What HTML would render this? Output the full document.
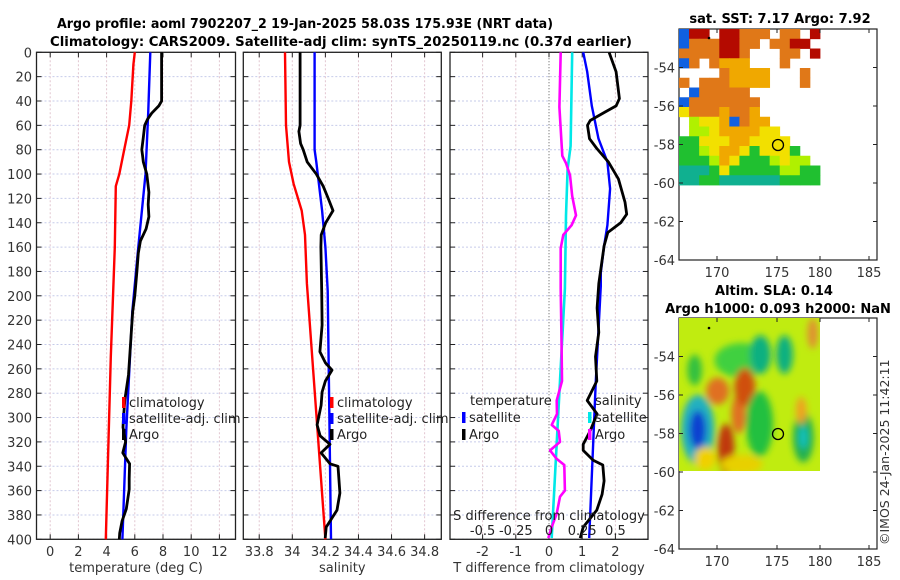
<!DOCTYPE html>
<html><head><meta charset="utf-8"><style>
body{margin:0;background:#fff}
svg{display:block;font-family:"DejaVu Sans","Liberation Sans",sans-serif}
</style></head><body>
<svg id="fig" width="900" height="580" viewBox="0 0 900 580" xmlns="http://www.w3.org/2000/svg">
<defs>
<filter id="blur" x="-50%" y="-50%" width="200%" height="200%"><feGaussianBlur stdDeviation="3.5"/></filter>
<clipPath id="slaclip"><rect x="679" y="318" width="141" height="153"/></clipPath>
</defs>
<text x="57" y="28" textLength="496" lengthAdjust="spacingAndGlyphs" font-size="13" font-weight="bold">Argo profile: aoml 7902207_2 19-Jan-2025 58.03S 175.93E (NRT data)</text>
<text x="50" y="46" textLength="582" lengthAdjust="spacingAndGlyphs" font-size="13" font-weight="bold">Climatology: CARS2009. Satellite-adj clim: synTS_20250119.nc (0.37d earlier)</text>
<text x="780" y="23" text-anchor="middle" font-size="13" font-weight="bold">sat. SST: 7.17 Argo: 7.92</text>
<text x="774" y="295" text-anchor="middle" font-size="13" font-weight="bold">Altim. SLA: 0.14</text>
<text x="778" y="313" text-anchor="middle" font-size="13" font-weight="bold">Argo h1000: 0.093 h2000: NaN</text>
<text transform="translate(889,545) rotate(-90)" font-size="12.5" fill="#333">©IMOS 24-Jan-2025 11:42:11</text>
<g id="plots"></g>
</svg>
<script>
// ---------- profile data ----------
const depthTicks = [0,20,40,60,80,100,120,140,160,180,200,220,240,260,280,300,320,340,360,380,400];
const tempTicks = [0,2,4,6,8,10,12];
const salTicks = [33.8,34,34.2,34.4,34.6,34.8];
const salTickLabels = ['33.8','34','34.2','34.4','34.6','34.8'];
const tdiffTicks = [-2,-1,0,1,2];
const sdiffTicks = [-0.5,-0.25,0,0.25,0.5];
const sdiffTickLabels = ['-0.5','-0.25','0','0.25','0.5'];

const tClimDepth = [0,10,40,60,80,100,110,160,250,400];
const tClimVal = [6.0,5.9,5.75,5.6,5.25,4.9,4.65,4.58,4.3,3.94];
const tSatDepth = [0,50,100,160,213,310,400];
const tSatVal = [7.1,6.95,6.76,6.25,5.82,5.4,5.12];
const tArgoDepth = [0,40,44,50,55,60,70,80,85,90,100,115,125,135,145,155,165,180,200,213,230,250,265,285,300,308,320,329,338,350,359,375,385,395,400];
const tArgoVal = [7.9,7.9,7.7,7.2,6.9,6.7,6.6,6.5,6.55,6.6,6.85,7.0,6.95,7.0,6.8,6.4,6.25,6.15,6.0,5.85,5.75,5.64,5.55,5.3,5.2,5.16,5.35,5.15,5.63,5.6,5.6,5.4,5.1,4.93,4.9];

const sClimDepth = [0,60,90,108,130,150,190,400];
const sClimVal = [33.956,33.962,33.98,34.008,34.057,34.077,34.088,34.2];
const sSatDepth = [0,80,90,130,160,196,400];
const sSatVal = [34.135,34.135,34.145,34.18,34.2,34.214,34.234];
const sArgoDepth = [0,40,60,65,75,80,90,100,110,120,130,140,150,160,196,224,246,255,261,270,279,290,306,315,322,329,338,340,362,376,390,399];
const sArgoVal = [34.047,34.047,34.047,34.04,34.05,34.066,34.09,34.145,34.187,34.217,34.246,34.202,34.175,34.173,34.178,34.18,34.167,34.2,34.24,34.2,34.18,34.174,34.15,34.168,34.228,34.174,34.228,34.276,34.288,34.27,34.205,34.199];

const dTSatDepth = [0,16,44,71,90,112,142,159,181,192,270,399];
const dTSatVal = [1.03,1.15,1.29,1.49,1.76,1.84,1.76,1.66,1.56,1.56,1.41,1.21];
const dTArgoDepth = [0,16,38,44,49,56,60,71,79,90,104,123,133,140,148,159,190,210,230,250,270,286,297,311,322,327,335,339,352,363,376,390,399];
const dTArgoVal = [1.81,2.02,2.12,2.02,1.69,1.24,1.16,1.22,1.44,1.79,2.09,2.29,2.34,2.16,1.77,1.66,1.5,1.45,1.5,1.4,1.44,1.15,1.45,1.24,1.03,1.03,1.33,1.62,1.66,1.6,1.44,1.03,0.94];
const dSSatDepth = [0,77,96,134,194,270,399];
const dSSatVal = [0.175,0.163,0.14,0.128,0.12,0.083,0.02];
const dSArgoDepth = [0,45,85,91,101,118,134,142,150,161,194,230,270,286,297,306,311,320,327,334,339,360,365,379,390,399];
const dSArgoVal = [0.088,0.078,0.1,0.128,0.158,0.175,0.203,0.17,0.108,0.088,0.088,0.093,0.098,0.058,0.06,0.02,0.073,0.083,0.008,0.058,0.115,0.12,0.083,0.058,0.02,-0.005];

// SST map rows (lon 166.5..180, lat -52..-60)
const sstRows = [
"brr.rrooo.oo.r",
"booorroo.oorr.",
"oooorro...oo.r",
"bo.oaaa...o...",
"....oaaaa...o.",
"o.oooaaaa...o.",
".booooo.......",
"booooooo......",
"yoooaooa......",
".lyyaboaa.....",
".llyaaaayy....",
"ggyyyaayyyy...",
"gglyaaygyyyg..",
"ggglayggglyll.",
"tttgygggggllgg",
"ttggttttttgggg"];
const sstColors = {r:'#b40a00',o:'#e07818',a:'#f0a800',y:'#f2e000',l:'#b0f000',g:'#20c030',t:'#10b090',b:'#1060e0'};
// SLA anomaly blobs: lon, lat, radius-x(deg), radius-y(deg), colour
const slaLon = [172.5,168.3,168.3,171.0,172.2,172.8,170.2,174.2,174.3,176.6,178.4,178.4,178.2,168.0,172.5,179.3,169.0];
const slaLat = [-54.2,-57.8,-57.8,-58.8,-57.0,-55.6,-55.8,-57.5,-53.9,-53.9,-58.2,-58.2,-56.8,-54.7,-59.6,-52.8,-59.3];
const slaRx = [2.6,1.6,0.8,0.8,0.7,1.0,1.1,1.3,1.0,0.8,1.0,0.4,0.5,0.7,2.0,0.5,1.0];
const slaRy = [0.9,1.8,1.0,1.3,1.0,1.0,0.7,1.7,1.0,1.0,1.3,0.6,0.7,0.8,0.5,0.8,0.6];
const slaCol = ['#40d040','#20b0c0','#1040d0','#c03810','#e07020','#d05010','#e07020','#20c040','#10b080','#10b080','#20b050','#10c0c0','#f0a020','#30c040','#e8d000','#e09030','#f0d000'];

// ---------- helpers ----------
const NS='http://www.w3.org/2000/svg';
const root=document.getElementById('plots');
function mk(tag,attrs,parent){const e=document.createElementNS(NS,tag);for(const k in attrs)e.setAttribute(k,attrs[k]);(parent||root).appendChild(e);return e;}
const Y0=52.3, YS=1.2175;
function yD(d){return Y0+d*YS;}
function xT(v){return 50.2+v*14.1;}
function xS(v){return 292.3+(v-34)*165.4;}
function xDT(v){return 549+v*33.2;}
function xDS(v){return 549+v*4*33.2;}
const YB=yD(400);

function panel(name,x0,x1,xt,xf,labels,xlabel,showY,zeroDotted){
  const g=mk('g',{});
  
  
  depthTicks.forEach(d=>{const l=mk('line',{x1:x0,x2:x1,y1:yD(d),y2:yD(d),stroke:'#c6cbea','stroke-width':1,'stroke-dasharray':'2,2'},g);
    });
  xt.forEach(v=>{const x=xf(v);const zero=zeroDotted&&v===0;
    const l=mk('line',{x1:x,x2:x,y1:Y0,y2:YB,stroke:zero?'#555':'#e2c6d0','stroke-width':1,'stroke-dasharray':zero?'1,2':'2,2'},g);
    });
  depthTicks.forEach(d=>{mk('line',{x1:x0,x2:x0+5,y1:yD(d),y2:yD(d),stroke:'#222'},g);mk('line',{x1:x1-5,x2:x1,y1:yD(d),y2:yD(d),stroke:'#222'},g);
    if(showY){const t=mk('text',{x:32,y:yD(d)+5,'text-anchor':'end','font-size':13,fill:'#333'},g);t.textContent=d;
      }});
  xt.forEach((v,i)=>{const x=xf(v);mk('line',{x1:x,x2:x,y1:Y0,y2:Y0+5,stroke:'#222'},g);mk('line',{x1:x,x2:x,y1:YB-5,y2:YB,stroke:'#222'},g);
    const t=mk('text',{x:x,y:556,'text-anchor':'middle','font-size':13,fill:'#333'},g);t.textContent=labels[i];
    });
  const fr=mk('rect',{x:x0,y:Y0,width:x1-x0,height:YB-Y0,fill:'none',stroke:'#222','stroke-width':1.3},g);
  
  const xl=mk('text',{x:(x0+x1)/2,y:572,'text-anchor':'middle','font-size':13,fill:'#333'},g);xl.textContent=xlabel;
  
  return g;
}
function series(g,name,ds,vs,xf,color,w){
  const pts=ds.map((d,i)=>xf(vs[i]).toFixed(1)+','+yD(d).toFixed(1)).join(' ');
  const p=mk('polyline',{points:pts,fill:'none',stroke:color,'stroke-width':w,'stroke-linejoin':'round'},g);
  
  
}
function legend(g,name,x,y,color,label){
  const r=mk('rect',{x:x,y:y-10,width:3.5,height:11,fill:color},g);
  
  
  const t=mk('text',{x:x+7,y:y,'font-size':13,fill:'#222'},g);t.textContent=label;
  
  
}

// panel 1 temperature
const g1=panel('temperature-panel',36.5,235.5,tempTicks,xT,tempTicks.map(String),'temperature (deg C)',true,false);
series(g1,'temp-climatology-line',tClimDepth,tClimVal,xT,'#ff0000',2.4);
series(g1,'temp-satellite-line',tSatDepth,tSatVal,xT,'#0000ff',2.4);
series(g1,'temp-argo-line',tArgoDepth,tArgoVal,xT,'#000',2.8);
legend(g1,'legend-climatology',122,407,'#ff0000','climatology');
legend(g1,'legend-satellite-adj',122,423,'#0000ff','satellite-adj. clim');
legend(g1,'legend-argo',122,439,'#000','Argo');

// panel 2 salinity
const g2=panel('salinity-panel',243.3,441.3,salTicks,xS,salTickLabels,'salinity',false,false);
series(g2,'sal-climatology-line',sClimDepth,sClimVal,xS,'#ff0000',2.4);
series(g2,'sal-satellite-line',sSatDepth,sSatVal,xS,'#0000ff',2.4);
series(g2,'sal-argo-line',sArgoDepth,sArgoVal,xS,'#000',2.8);
legend(g2,'legend-climatology',330,407,'#ff0000','climatology');
legend(g2,'legend-satellite-adj',330,423,'#0000ff','satellite-adj. clim');
legend(g2,'legend-argo',330,439,'#000','Argo');

// panel 3 differences
const g3=panel('difference-panel',450,648,tdiffTicks,xDT,tdiffTicks.map(String),'T difference from climatology',false,true);
series(g3,'sdiff-satellite-line',dSSatDepth,dSSatVal,xDS,'#00e8e8',2.6);
series(g3,'sdiff-argo-line',dSArgoDepth,dSArgoVal,xDS,'#ff00ff',2.6);
series(g3,'tdiff-satellite-line',dTSatDepth,dTSatVal,xDT,'#0000ff',2.4);
series(g3,'tdiff-argo-line',dTArgoDepth,dTArgoVal,xDT,'#000',2.8);
{const t=mk('text',{x:470,y:405,'font-size':13,fill:'#222'},g3);t.textContent='temperature';
 const s=mk('text',{x:595,y:405,'font-size':13,fill:'#222'},g3);s.textContent='salinity';}
legend(g3,'legend-t-satellite',462,422,'#0000ff','satellite');
legend(g3,'legend-t-argo',462,439,'#000','Argo');
legend(g3,'legend-s-satellite',588,422,'#00e8e8','satellite');
legend(g3,'legend-s-argo',588,439,'#ff00ff','Argo');
{const t=mk('text',{x:549,y:520,'text-anchor':'middle','font-size':13,fill:'#222'},g3);t.textContent='S difference from climatology';
 
 sdiffTicks.forEach((v,i)=>{const l=mk('text',{x:xDS(v),y:535,'text-anchor':'middle','font-size':13,fill:'#222'},g3);l.textContent=sdiffTickLabels[i];
   });}

// ---------- maps ----------
const mapLonTicks=[170,175,180,185];
const mapLonX=[717,777,820,869];
const mapLatTicks=[-54,-56,-58,-60,-62,-64];
function mapFrame(name,y0,y1){
  const g=mk('g',{});
  
  
  const f=mk('rect',{x:679,y:y0,width:198,height:y1-y0,fill:'#fff',stroke:'#222','stroke-width':1.2},g);
  
  return g;
}
function mapAxes(g,y0,y1){
  const ly=(lat)=>y0+(-52-lat)/12*(y1-y0);
  mapLatTicks.forEach(lat=>{const y=ly(lat);mk('line',{x1:679,x2:683,y1:y,y2:y,stroke:'#222'},g);mk('line',{x1:873,x2:877,y1:y,y2:y,stroke:'#222'},g);
    const t=mk('text',{x:675,y:y+5,'text-anchor':'end','font-size':13,fill:'#333'},g);t.textContent=lat;
    });
  mapLonTicks.forEach((lon,i)=>{const x=mapLonX[i];mk('line',{x1:x,x2:x,y1:y1-4,y2:y1,stroke:'#222'},g);mk('line',{x1:x,x2:x,y1:y0,y2:y0+4,stroke:'#222'},g);
    const t=mk('text',{x:x,y:y1+17,'text-anchor':'middle','font-size':13,fill:'#333'},g);t.textContent=lon;
    });
}
// SST map
const gs=mapFrame('sst-map',29,260);
const cw=141/14, ch=156/16;
sstRows.forEach((row,r)=>{[...row].forEach((c,k)=>{if(c==='.')return;
  const cell=mk('rect',{x:(679+k*cw).toFixed(2),y:(29+r*ch).toFixed(2),width:(cw+0.4).toFixed(2),height:(ch+0.4).toFixed(2),fill:sstColors[c]},gs);
  
  });});
mapAxes(gs,29,260);
{const c=mk('circle',{cx:778,cy:145,r:5.5,fill:'none',stroke:'#000','stroke-width':1.3},gs);
 mk('circle',{cx:709,cy:38,r:1.3,fill:'#000'},gs);}
// SLA map
const gl=mapFrame('sla-map',318,549);
const lonX=(lon)=>679+(lon-166.5)*(141/13.5);
const latY=(lat)=>318+(-52-lat)*(231/12);
{const bg=mk('rect',{x:679,y:318,width:141,height:153,fill:'#c0ec10'},gl);
 const bl=mk('g',{'clip-path':'url(#slaclip)'},gl);
 const bf=mk('g',{filter:'url(#blur)'},bl);
 slaLon.forEach((lon,i)=>{const e=mk('ellipse',{cx:lonX(lon),cy:latY(slaLat[i]),rx:slaRx[i]*(141/13.5),ry:slaRy[i]*(231/12),fill:slaCol[i]},bf);
   });}
mapAxes(gl,318,549);
{const c=mk('circle',{cx:778,cy:434,r:5.5,fill:'none',stroke:'#000','stroke-width':1.3},gl);
 mk('circle',{cx:709,cy:328,r:1.3,fill:'#000'},gl);}
</script>
</body></html>
